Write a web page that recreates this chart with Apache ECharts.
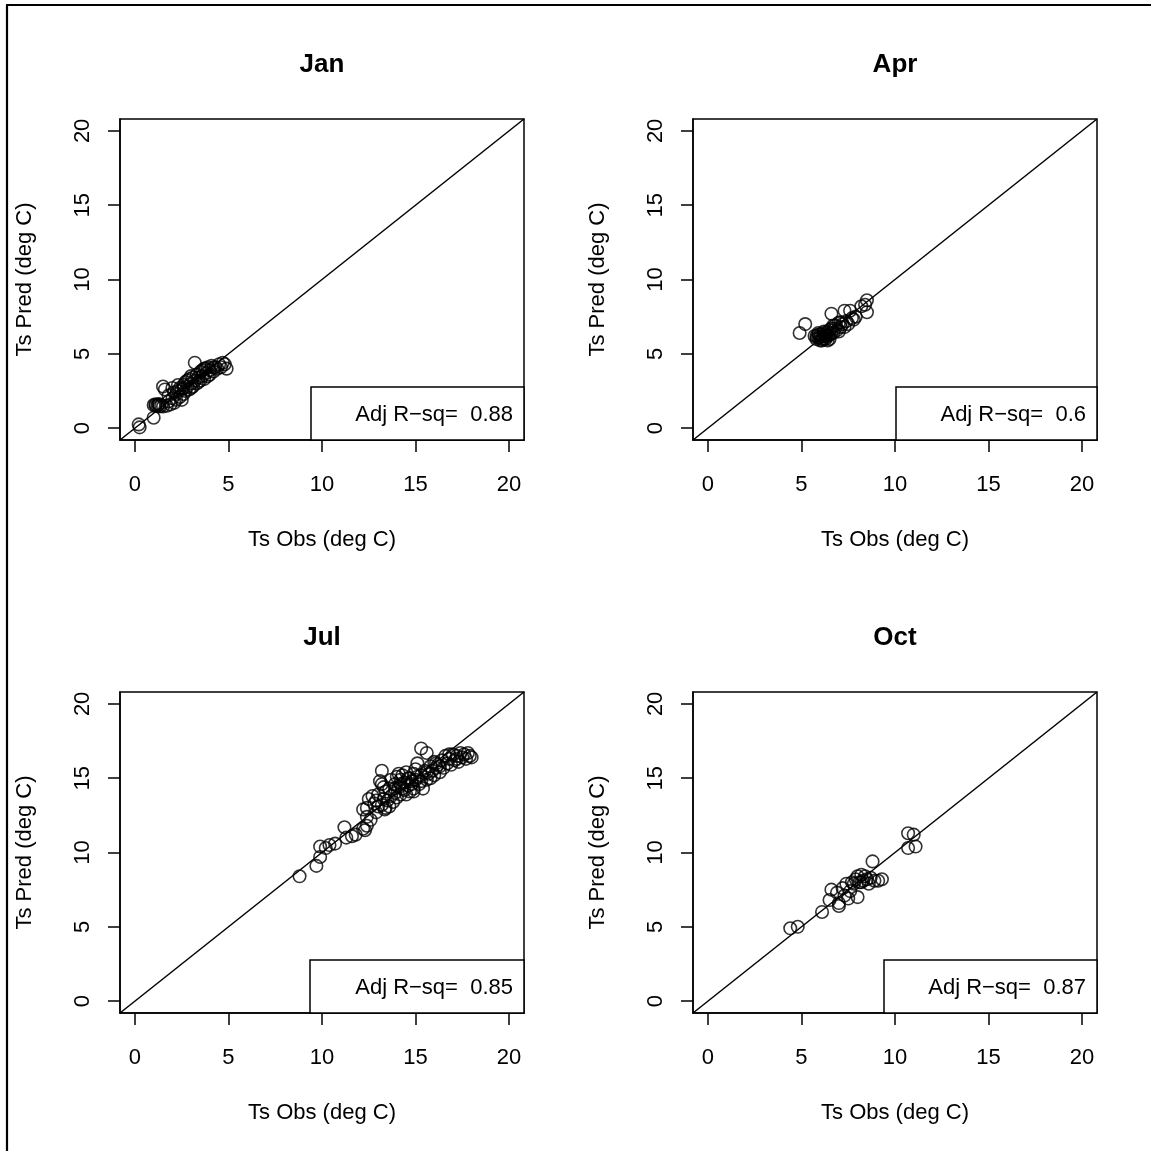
<!DOCTYPE html>
<html><head><meta charset="utf-8">
<script src="https://cdn.jsdelivr.net/npm/echarts@6/dist/echarts.min.js"></script>
<style>html,body{margin:0;padding:0;background:#fff}#c{width:1151px;height:1151px}</style>
</head><body><div id="c"></div>
<script>
// ---- data ----
const panelTitles = ['Jan', 'Apr', 'Jul', 'Oct'];
const rsqValues = ['0.88', '0.6', '0.85', '0.87'];
const tickValues = [0, 5, 10, 15, 20];
const xAxisName = 'Ts Obs (deg C)';
const yAxisName = 'Ts Pred (deg C)';

const janObs  = [0.2,0.25,1.0,1.0,1.1,1.25,1.4,1.5,1.6,1.7,1.8,1.8,1.9,2.0,2.0,2.1,2.2,2.2,2.3,2.3,2.4,2.5,2.5,2.6,2.6,2.7,2.7,2.8,2.9,2.9,3.0,3.0,3.1,3.2,3.2,3.3,3.3,3.4,3.5,3.5,3.6,3.7,3.7,3.8,3.9,3.9,4.0,4.1,4.2,4.3,4.4,4.5,4.6,4.7,4.8,4.9,3.6,2.1,1.5,1.3,1.1,1.2,1.3,2.4,2.8,3.1,3.4,3.8,4.0,4.2,2.6,3.0];
const janPred = [0.25,0.05,0.7,1.55,1.5,1.6,1.5,1.45,2.6,1.5,2.2,1.8,1.6,2.0,2.7,1.7,2.3,1.9,2.5,2.9,2.1,2.6,1.9,2.9,2.3,3.1,2.5,2.8,3.3,2.6,3.0,3.5,2.8,4.4,3.2,3.6,3.0,3.4,3.8,3.2,3.5,4.0,3.3,3.7,4.1,3.5,3.9,4.2,3.8,4.1,4.0,4.3,4.1,4.4,4.3,4.0,3.9,2.4,2.8,1.6,1.6,1.5,1.45,2.7,3.2,3.4,3.1,4.0,3.6,4.1,2.7,2.7];

const aprObs  = [4.9,5.2,5.7,5.8,5.9,6.0,6.0,6.1,6.2,6.2,6.3,6.4,6.5,6.5,6.6,6.6,6.7,6.8,6.9,7.0,7.0,7.1,7.2,7.3,7.3,7.4,7.5,7.6,7.7,7.8,7.9,8.2,8.4,8.5,8.5,5.9,6.1,6.3,5.8,6.0,6.1,6.2,6.3,6.4,6.5,6.7,7.1,6.8,5.9,6.2,6.4,6.6];
const aprPred = [6.4,7.0,6.2,6.0,6.4,6.1,5.9,6.2,6.0,6.5,6.2,5.9,6.3,6.0,6.7,7.7,6.4,6.9,6.6,7.1,6.5,6.8,7.0,7.9,6.8,7.2,7.0,7.9,7.4,7.3,7.5,8.2,8.3,8.6,7.8,6.1,6.0,6.0,6.2,6.3,5.9,6.2,6.3,6.5,6.6,6.9,7.1,6.7,6.3,6.4,6.2,6.4];

const julObs  = [8.8,9.7,9.9,9.9,10.2,10.4,10.7,11.2,11.3,11.6,11.8,12.2,12.4,12.3,12.2,12.4,12.4,12.6,12.5,12.7,12.8,12.9,13.0,13.0,13.1,13.2,13.2,13.2,13.3,13.4,13.4,13.5,13.6,13.7,13.7,13.8,13.9,13.9,14.0,14.0,14.1,14.2,14.2,14.3,14.3,14.4,14.5,14.5,14.6,14.7,14.7,14.8,14.9,14.9,15.0,15.0,15.1,15.2,15.3,15.3,15.4,15.5,15.6,15.6,15.7,15.8,15.8,15.9,16.0,16.0,16.1,16.2,16.3,16.4,16.5,16.6,16.7,16.8,16.9,17.0,17.1,17.2,17.3,17.4,17.5,17.6,17.7,17.8,17.9,18.0,13.35,14.9,13.6,13.9,14.2,14.4,14.6,14.8,15.1,15.3,15.6,16.1,16.3,16.8,17.2,13.3,12.9,14.1];
const julPred = [8.4,9.1,9.7,10.4,10.3,10.5,10.6,11.7,11.0,11.1,11.2,11.6,11.8,11.5,12.9,13.0,12.4,12.2,13.6,13.8,13.3,12.7,13.1,13.9,14.8,14.6,15.5,13.2,13.6,14.1,13.0,13.5,14.3,13.8,14.9,13.4,14.6,14.0,15.1,13.7,14.4,14.9,13.9,15.2,14.3,14.7,13.9,15.4,14.5,15.0,14.1,14.6,15.3,14.3,14.9,15.6,16.0,14.6,17.0,15.2,14.3,15.5,16.7,14.9,15.3,15.8,15.0,15.5,16.1,15.2,15.7,15.9,15.4,16.2,15.7,16.5,16.0,16.3,15.9,16.6,16.2,16.5,16.1,16.7,16.4,16.6,16.3,16.7,16.5,16.4,12.9,14.1,13.1,14.3,14.6,14.2,15.0,14.8,15.1,14.8,15.4,16.0,15.8,16.6,16.3,14.4,13.5,15.3];

const octObs  = [4.4,4.8,6.1,6.5,6.6,6.9,7.0,7.0,7.3,7.4,7.5,7.6,7.8,8.0,7.9,8.0,8.1,8.2,8.3,8.4,8.5,8.6,8.7,8.8,8.9,9.1,9.3,10.7,11.0,10.7,11.1,7.2,8.2,7.7];
const octPred = [4.9,5.0,6.0,6.8,7.5,7.3,6.6,6.4,7.1,7.9,6.9,7.4,7.9,7.0,8.2,8.4,8.0,8.5,8.1,8.4,8.2,7.9,8.3,9.4,8.1,8.1,8.2,11.3,11.2,10.3,10.4,7.6,8.0,8.0];

const obsSets  = [janObs, aprObs, julObs, octObs];
const predSets = [janPred, aprPred, julPred, octPred];

// ---- layout ----
const FONT = '"Liberation Sans", Arial, Helvetica, sans-serif';
const gridPos = [[120, 119], [693, 119], [120, 692], [693, 692]];
const GW = 404, GH = 321;
const AXMIN = -0.8, AXMAX = 20.8;
const legendWidths = [213, 201, 214, 213];
const LEG_H = 53;
const LW = 1.5;

const grids = [], xAxes = [], yAxes = [], series = [], graphics = [];
gridPos.forEach((p, i) => {
  grids.push({left: p[0], top: p[1], width: GW, height: GH, show: true,
    borderColor: '#000', borderWidth: LW, backgroundColor: 'transparent', containLabel: false});
  const common = {
    min: AXMIN, max: AXMAX, gridIndex: i, type: 'value',
    splitLine: {show: false},
    axisLine: {show: true, onZero: false, lineStyle: {color: '#000', width: LW}},
    axisTick: {show: true, inside: false, length: 12, lineStyle: {color: '#000', width: LW}, customValues: tickValues},
    nameLocation: 'middle',
    nameTextStyle: {fontFamily: FONT, fontSize: 22, color: '#000'}
  };
  xAxes.push(Object.assign({}, common, {
    position: 'bottom', name: xAxisName, nameGap: 89,
    axisLabel: {customValues: tickValues, fontFamily: FONT, fontSize: 22, color: '#000', margin: 34}
  }));
  yAxes.push(Object.assign({}, common, {
    position: 'left', name: yAxisName, nameGap: 84,
    axisLabel: {customValues: tickValues, fontFamily: FONT, fontSize: 22, color: '#000', margin: 26, rotate: 90}
  }));
  series.push({
    type: 'scatter', xAxisIndex: i, yAxisIndex: i,
    data: obsSets[i].map((v, k) => [v, predSets[i][k]]),
    symbol: 'circle', symbolSize: 12.5,
    itemStyle: {color: 'rgba(0,0,0,0)', borderColor: '#000', borderWidth: 1.6},
    silent: true
  });
  series.push({
    type: 'line', xAxisIndex: i, yAxisIndex: i,
    data: [[AXMIN, AXMIN], [AXMAX, AXMAX]],
    symbol: 'none', clip: true, silent: true,
    lineStyle: {color: '#000', width: LW}
  });
  // panel title
  graphics.push({type: 'text', x: p[0] + GW / 2, y: p[1] - 54,
    style: {text: panelTitles[i], font: 'bold 26px ' + FONT, fill: '#000', textAlign: 'center', textVerticalAlign: 'middle'}});
  // legend box
  const right = p[0] + GW, bottom = p[1] + GH;
  graphics.push({type: 'rect', shape: {x: right - legendWidths[i], y: bottom - LEG_H, width: legendWidths[i], height: LEG_H},
    style: {fill: '#fff', stroke: '#000', lineWidth: LW}, z: 10});
  graphics.push({type: 'text', x: right - 11, y: bottom - LEG_H / 2 + 1, z: 11,
    style: {text: 'Adj R\u2212sq=  ' + rsqValues[i], font: '22px ' + FONT, fill: '#000', textAlign: 'right', textVerticalAlign: 'middle'}});
});
// outer frame (left and top edges visible)
graphics.push({type: 'line', shape: {x1: 7, y1: 5, x2: 7, y2: 1151}, style: {stroke: '#000', lineWidth: 2.2}});
graphics.push({type: 'line', shape: {x1: 6, y1: 5, x2: 1151, y2: 5}, style: {stroke: '#000', lineWidth: 2.2}});

const chart = echarts.init(document.getElementById('c'), null, {renderer: 'canvas'});
chart.setOption({
  animation: false,
  backgroundColor: '#fff',
  textStyle: {fontFamily: FONT},
  grid: grids, xAxis: xAxes, yAxis: yAxes, series: series, graphic: graphics
});
</script></body></html>
